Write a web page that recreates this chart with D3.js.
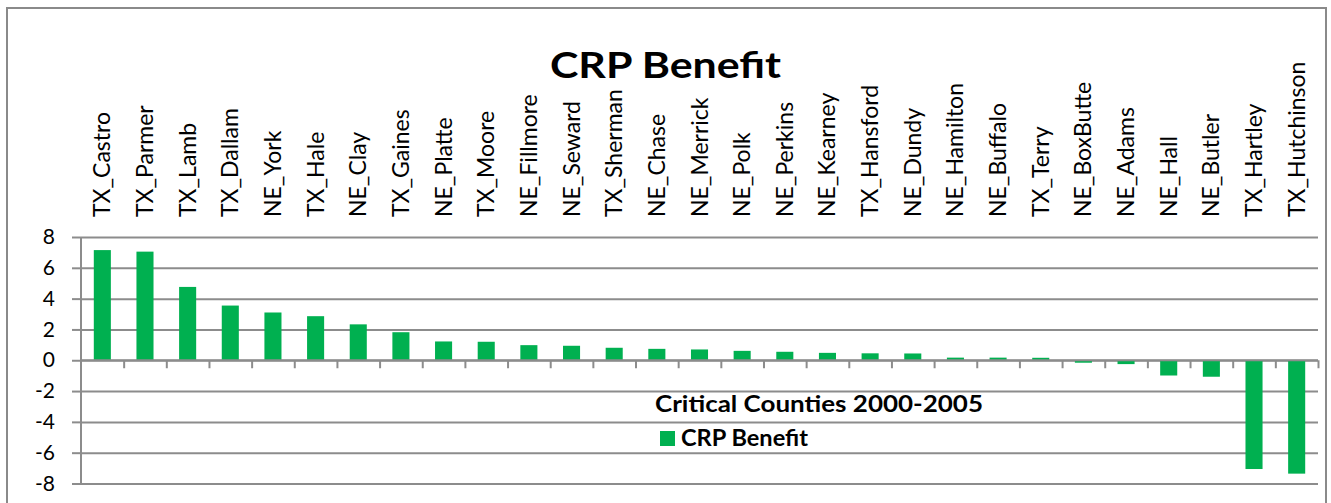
<!DOCTYPE html>
<html>
<head>
<meta charset="utf-8">
<script src="https://cdn.jsdelivr.net/npm/d3@7"></script>
<style>
  html, body { margin: 0; padding: 0; background: #fff; }
  svg { display: block; }
  text { font-family: Lato, "Open Sans", sans-serif; fill: #000; }
</style>
</head>
<body>
<svg id="chart" width="1331" height="503"></svg>
<script>
// County names, in ranked order
const categories = [
  "TX_Castro", "TX_Parmer", "TX_Lamb", "TX_Dallam", "NE_York", "TX_Hale",
  "NE_Clay", "TX_Gaines", "NE_Platte", "TX_Moore", "NE_Fillmore", "NE_Seward",
  "TX_Sherman", "NE_Chase", "NE_Merrick", "NE_Polk", "NE_Perkins", "NE_Kearney",
  "TX_Hansford", "NE_Dundy", "NE_Hamilton", "NE_Buffalo", "TX_Terry",
  "NE_BoxButte", "NE_Adams", "NE_Hall", "NE_Butler", "TX_Hartley", "TX_Hutchinson"
];
// CRP benefit per county
const crpBenefit = [
  7.15, 7.05, 4.76, 3.55, 3.1, 2.86, 2.33, 1.82, 1.22, 1.2, 0.98, 0.94,
  0.81, 0.74, 0.7, 0.61, 0.55, 0.48, 0.45, 0.44, 0.17, 0.17, 0.16,
  -0.16, -0.25, -0.99, -1.07, -7.06, -7.36
];
const yTicks = [-8, -6, -4, -2, 0, 2, 4, 6, 8];
const chartTitle = "CRP Benefit";
const legendTitle = "Critical Counties 2000-2005";
const seriesName = "CRP Benefit";

const svg = d3.select("#chart");
const plotL = 81, plotR = 1318, plotT = 237, plotB = 483.5;
const gridColor = "#8c8c8c";
const barColor = "#00b050";

// outer chart frame
svg.append("rect")
  .attr("x", 7).attr("y", 8).attr("width", 1319).attr("height", 510)
  .attr("fill", "#fff").attr("stroke", "#8a8a8a").attr("stroke-width", 2);

const x = d3.scaleBand().domain(categories).range([plotL, plotR]).padding(0);
const y = d3.scaleLinear().domain([-8, 8]).range([plotB, plotT]);
const bw = x.bandwidth() * 0.4;

// horizontal gridlines
svg.append("g")
  .attr("transform", `translate(${plotL},0)`)
  .call(d3.axisLeft(y).tickValues(yTicks).tickSize(-(plotR - plotL)).tickFormat(""))
  .call(g => g.select(".domain").remove())
  .call(g => g.selectAll("line").attr("stroke", gridColor).attr("stroke-width", 2));

// value axis with outside ticks and labels
svg.append("g")
  .attr("transform", `translate(${plotL},0)`)
  .call(d3.axisLeft(y).tickValues(yTicks).tickSize(9).tickPadding(17).tickFormat(d3.format("d")))
  .call(g => g.select(".domain").attr("stroke", gridColor).attr("stroke-width", 2).attr("d", `M0,${plotT}V${plotB}`))
  .call(g => g.selectAll(".tick line").attr("stroke", gridColor).attr("stroke-width", 2))
  .call(g => g.selectAll(".tick text").attr("font-size", 21).attr("font-family", "Lato, sans-serif").attr("fill", "#000")
    .text(d => d < 0 ? "-" + Math.abs(d) : d));

// bars
svg.append("g").selectAll("rect")
  .data(categories.map((c, i) => ({ c, v: crpBenefit[i] })))
  .join("rect")
  .attr("x", d => x(d.c) + (x.bandwidth() - bw) / 2)
  .attr("width", bw)
  .attr("y", d => y(Math.max(0, d.v)))
  .attr("height", d => Math.abs(y(d.v) - y(0)))
  .attr("fill", barColor);

// category axis along zero, ticks between categories
const xEdges = d3.scaleLinear().domain([0, categories.length]).range([plotL, plotR]);
svg.append("g")
  .attr("transform", `translate(0,${y(0)})`)
  .call(d3.axisBottom(xEdges).tickValues(d3.range(1, categories.length + 1)).tickSize(8).tickFormat(""))
  .call(g => g.select(".domain").attr("stroke", gridColor).attr("stroke-width", 2).attr("d", `M${plotL},0H${plotR}`))
  .call(g => g.selectAll(".tick line").attr("stroke", gridColor).attr("stroke-width", 2));

// category labels, rotated, along the top
svg.append("g").selectAll("text")
  .data(categories)
  .join("text")
  .attr("transform", d => `translate(${x(d) + x.bandwidth() / 2 + 8},217) rotate(-90)`)
  .attr("text-anchor", "start")
  .attr("font-size", 23)
  .text(d => d);

// title
svg.append("text")
  .attr("x", 550).attr("y", 78)
  .attr("font-size", 36).attr("font-weight", "bold")
  .attr("textLength", 231).attr("lengthAdjust", "spacingAndGlyphs")
  .text(chartTitle);

// legend
svg.append("text")
  .attr("x", 655).attr("y", 412)
  .attr("font-size", 22).attr("font-weight", "bold")
  .attr("textLength", 328).attr("lengthAdjust", "spacingAndGlyphs")
  .text(legendTitle);
svg.append("rect")
  .attr("x", 660).attr("y", 431).attr("width", 15).attr("height", 15)
  .attr("fill", barColor);
svg.append("text")
  .attr("x", 681).attr("y", 446)
  .attr("font-size", 22).attr("font-weight", "bold")
  .attr("textLength", 127).attr("lengthAdjust", "spacingAndGlyphs")
  .text(seriesName);
</script>
</body>
</html>
